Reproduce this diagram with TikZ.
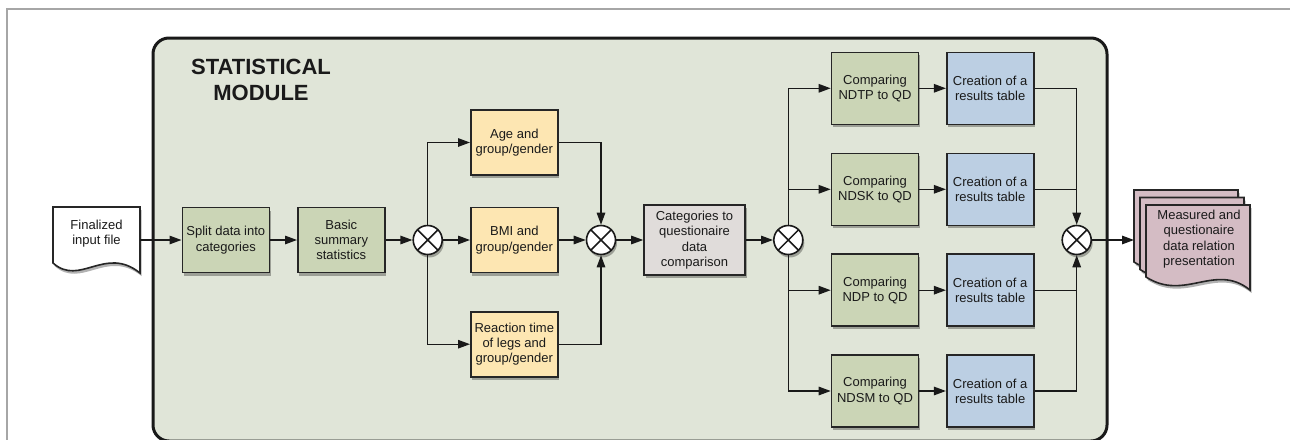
\documentclass[tikz,border=0pt]{standalone}
\usepackage{fontspec}
\setmainfont{Liberation Sans}
\usetikzlibrary{shadows,arrows.meta}
\definecolor{bgmod}{HTML}{E0E5D8}
\definecolor{gbox}{HTML}{CBD5B6}
\definecolor{ybox}{HTML}{FDE6B2}
\definecolor{bbox}{HTML}{BCCFE3}
\definecolor{cbox}{HTML}{E0DCDA}
\definecolor{pbox}{HTML}{D4BCC4}
\definecolor{txt}{HTML}{1A1A1A}
\begin{document}
\begin{tikzpicture}[x=1pt,y=-1pt,
  shad/.style={drop shadow={shadow xshift=1.5pt,shadow yshift=-3pt,opacity=0.3,fill=black}},
  box/.style={draw=black!85, line width=1.6pt, minimum width=87pt, minimum height=65pt, inner sep=0pt,
    align=center, font=\fontsize{13}{15.3}\selectfont, text=txt, shad},
  gbx/.style={box, fill=gbox},
  ybx/.style={box, fill=ybox},
  bbx/.style={box, fill=bbox, minimum height=72pt},
  cbx/.style={box, fill=cbox, minimum width=101pt, minimum height=70pt},
  docsty/.style={draw=black!85, line width=1.6pt, shad},
  doctext/.style={align=center, font=\fontsize{13}{15.3}\selectfont, text=txt, inner sep=0pt},
  ln/.style={line width=1.3pt, draw=black!90},
  arr/.style={ln, -{Triangle[length=12pt,width=8.5pt]}},
  mix/.style={circle, draw=black!90, line width=1.6pt, fill=white, minimum size=29pt, inner sep=0pt, shad,
    path picture={\draw[line width=1.5pt]
      ([shift={(45:16pt)}]path picture bounding box.center) -- ([shift={(225:16pt)}]path picture bounding box.center)
      ([shift={(135:16pt)}]path picture bounding box.center) -- ([shift={(-45:16pt)}]path picture bounding box.center);}}
]
\useasboundingbox (0,0) rectangle (1290,439);
\clip (0,0) rectangle (1290,439);
\fill[white] (0,0) rectangle (1290,439);
% outer frame
\draw[black!35, line width=1.5pt] (7,445) -- (7,9) -- (1295,9);
% module
\draw[fill=bgmod, line width=3pt, draw=black!90, rounded corners=16pt] (153,38) rectangle (1107,441);
\node[font=\fontsize{22}{26}\selectfont\bfseries, align=center, text=txt] (title) at (261,80) {STATISTICAL\\MODULE};

% input document
\draw[docsty, fill=white] (53,207) -- (140,207) -- (140,273) .. controls +(-35,-28) and +(27,24) .. (53,263) -- cycle;
\node[doctext, minimum width=87pt] (fin) at (96.5,233.5) {Finalized\\input file};

% boxes
\node[gbx] (split) at (225.8,240) {Split data into\\categories};
\node[gbx] (basic) at (341.3,240) {Basic\\summary\\statistics};
\node[mix] (m1) at (427.7,240) {};
\node[ybx] (age) at (514.3,142.5) {Age and\\group/gender};
\node[ybx] (bmi) at (514.3,240) {BMI and\\group/gender};
\node[ybx] (react) at (514.3,344.2) {Reaction time\\of legs and\\group/gender};
\node[mix] (m2) at (601,240) {};
\node[cbx] (cat) at (694.5,240) {Categories to\\questionaire\\data\\comparison};
\node[mix] (m3) at (788.3,240) {};
\node[gbx, minimum height=72pt] (c1) at (875,88.3) {Comparing\\NDTP to QD};
\node[gbx, minimum height=72pt] (c2) at (875,189.3) {Comparing\\NDSK to QD};
\node[gbx, minimum height=72pt] (c3) at (875,290.2) {Comparing\\NDP to QD};
\node[gbx, minimum height=72pt] (c4) at (875,391) {Comparing\\NDSM to QD};
\node[bbx] (r1) at (990.2,88.3) {Creation of a\\results table};
\node[bbx] (r2) at (990.2,189.3) {Creation of a\\results table};
\node[bbx] (r3) at (990.2,290.2) {Creation of a\\results table};
\node[bbx] (r4) at (990.2,391) {Creation of a\\results table};
\node[mix] (m4) at (1076.7,240) {};

% output document stack
\draw[docsty, fill=pbox] (1134,190) -- (1238,190) -- (1238,275) .. controls +(-35,-28) and +(39,25) .. (1134,262) -- cycle;
\draw[docsty, fill=pbox] (1140,197.5) -- (1244,197.5) -- (1244,282.5) .. controls +(-35,-28) and +(39,25) .. (1140,269.5) -- cycle;
\draw[docsty, fill=pbox] (1146,205) -- (1250,205) -- (1250,290) .. controls +(-35,-28) and +(39,25) .. (1146,277) -- cycle;
\node[doctext, minimum width=104pt] (meas) at (1199,239) {Measured and\\questionaire\\data relation\\presentation};
\coordinate (measin) at (1134,240);

% connectors
\draw[arr] (fin.east |- split.west) -- (split.west);
\draw[arr] (split) -- (basic);
\draw[arr] (basic) -- (m1);
\draw[arr] (m1) -- (bmi);
\draw[arr] (m1) |- (age);
\draw[arr] (m1) |- (react);
\draw[arr] (bmi) -- (m2);
\draw[arr] (age) -| (m2);
\draw[arr] (react) -| (m2);
\draw[arr] (m2) -- (cat);
\draw[arr] (cat) -- (m3);
\draw[arr] (m3) |- (c1);
\draw[arr] (m3) |- (c4);
\draw[arr] (m3.center |- c2) -- (c2);
\draw[arr] (m3.center |- c3) -- (c3);
\draw[arr] (c1) -- (r1);
\draw[arr] (c2) -- (r2);
\draw[arr] (c3) -- (r3);
\draw[arr] (c4) -- (r4);
\draw[arr] (r1) -| (m4);
\draw[arr] (r4) -| (m4);
\draw[ln] (r2) -- (m4.center |- r2);
\draw[ln] (r3) -- (m4.center |- r3);
\draw[arr] (m4) -- (measin);
\end{tikzpicture}
\end{document}
